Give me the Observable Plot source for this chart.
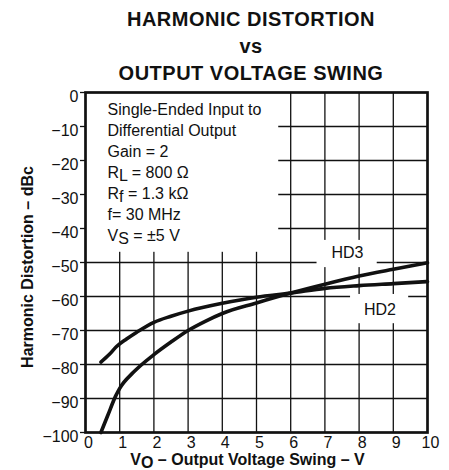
<!DOCTYPE html>
<html>
<head>
<meta charset="utf-8">
<script src="https://cdn.jsdelivr.net/npm/d3@7"></script>
<script src="https://cdn.jsdelivr.net/npm/@observablehq/plot@0.6"></script>
<style>
  html, body { margin: 0; padding: 0; background: #fff; }
  #title {
    box-sizing: border-box; width: 449px; height: 85px;
    padding-top: 5.6px; padding-left: 53px;
    font-family: "Liberation Sans", Arial, sans-serif; font-weight: bold;
    font-size: 20px; letter-spacing: 0.5px; line-height: 27px;
    text-align: center; color: #111;
  }
</style>
</head>
<body>
<div id="title">HARMONIC DISTORTION<br>vs<br>OUTPUT VOLTAGE SWING</div>
<div id="chart"></div>
<script>
// ---- data ----
const xTicks = [0, 1, 2, 3, 4, 5, 6, 7, 8, 9, 10];
const yTicks = [0, -10, -20, -30, -40, -50, -60, -70, -80, -90, -100];

const hd3X = [0.45, 0.65, 0.88, 1, 1.4, 2, 2.5, 3, 3.5, 4, 5, 6, 7, 8, 9, 10];
const hd3Y = [-100, -95, -89.3, -87, -82.3, -77.1, -73.4, -70, -67.3, -65, -61.9, -59, -56.4, -54, -52, -50.1];

const hd2X = [0.45, 0.7, 0.9, 1.2, 1.5, 2, 2.5, 3, 4, 5, 6, 7, 8, 9, 10];
const hd2Y = [-79.3, -77, -74.8, -72.5, -70.5, -67.6, -65.8, -64.3, -62, -60.2, -59, -57.6, -56.8, -56.2, -55.6];

const seriesNames = ["HD3", "HD2"];
const seriesLabelX = [7.66, 8.61];
const seriesLabelY = [-47.2, -63.8];

const noteLines = [
  "Single-Ended Input to",
  "Differential Output",
  "Gain = 2",
  "R_L = 800 Ω",
  "R_f = 1.3 kΩ",
  "f= 30 MHz",
  "V_S = ±5 V"
];

// white backgrounds behind the note block and the series labels
const boxX1 = [0, 6.77, 7.75];
const boxX2 = [5.65, 8.53, 9.45];
const boxY1 = [0, -43.5, -59.4];
const boxY2 = [-47, -51.5, -68];

const xLabel = "V_O – Output Voltage Swing – V";
const yLabel = "Harmonic Distortion – dBc";

// ---- chart ----
const font = "'Liberation Sans', Arial, sans-serif";
const gridX = xTicks.filter(v => v > 0 && v < 10);
const gridY = yTicks.filter(v => v < 0 && v > -100);

const plot = Plot.plot({
  width: 449,
  height: 385,
  marginLeft: 85,
  marginRight: 22,
  marginTop: 7,
  marginBottom: 38,
  style: { fontFamily: font, fontSize: "16px", color: "#111", background: "#fff", overflow: "visible" },
  x: { domain: [0, 10], axis: null },
  y: { domain: [-100, 0], axis: null },
  marks: [
    Plot.ruleX(gridX, { stroke: "#111", strokeWidth: 1.3 }),
    Plot.ruleY(gridY, { stroke: "#111", strokeWidth: 1.3 }),
    Plot.rect(boxX1, { x1: boxX1, x2: boxX2, y1: boxY1, y2: boxY2, fill: "white" }),
    Plot.line(hd3Y, { x: hd3X, y: hd3Y, curve: "monotone-x", stroke: "#111", strokeWidth: 3.6 }),
    Plot.line(hd2Y, { x: hd2X, y: hd2Y, curve: "monotone-x", stroke: "#111", strokeWidth: 3.6 }),
    Plot.frame({ stroke: "#111", strokeWidth: 2.7 }),
    Plot.axisY({ ticks: yTicks, tickSize: 5, tickFormat: () => "", strokeWidth: 1.3, label: null }),
    Plot.axisY({ ticks: yTicks, tickSize: 0, tickPadding: 7, dy: 4, fontSize: 16, label: null }),
    Plot.axisX({ ticks: xTicks, tickSize: 0, tickPadding: 4.5, dx: 3, fontSize: 16, label: null }),
    Plot.text(seriesNames, { x: seriesLabelX, y: seriesLabelY, text: d => d, fontSize: 16 }),
    ...noteLines.map((line, i) => Plot.text([line], {
      frameAnchor: "top-left", textAnchor: "start", lineAnchor: "top",
      dx: 22, dy: 11.6 + i * 21, fontSize: 16
    })),
    Plot.text([xLabel], { frameAnchor: "bottom", textAnchor: "middle", lineAnchor: "middle", dx: -9, dy: 27, fontSize: 16, fontWeight: "bold" }),
    Plot.text([yLabel], { frameAnchor: "left", textAnchor: "middle", lineAnchor: "middle", dx: -58, dy: 4.5, rotate: -90, fontSize: 16, fontWeight: "bold" })
  ]
});

// turn "_X" into a lowered subscript character
plot.querySelectorAll("text").forEach(t => {
  const s = t.textContent;
  if (!s.includes("_")) return;
  t.textContent = "";
  const ns = "http://www.w3.org/2000/svg";
  const re = /_(.)/g;
  let last = 0, m, shifted = false;
  const add = (str, dy) => {
    const ts = document.createElementNS(ns, "tspan");
    ts.textContent = str;
    if (dy) ts.setAttribute("dy", dy);
    t.appendChild(ts);
  };
  while ((m = re.exec(s))) {
    add(s.slice(last, m.index), shifted ? -3 : 0);
    add(m[1], 3);
    shifted = true;
    last = m.index + m[0].length;
  }
  add(s.slice(last), shifted ? -3 : 0);
});

document.getElementById("chart").appendChild(plot);
</script>
</body>
</html>
